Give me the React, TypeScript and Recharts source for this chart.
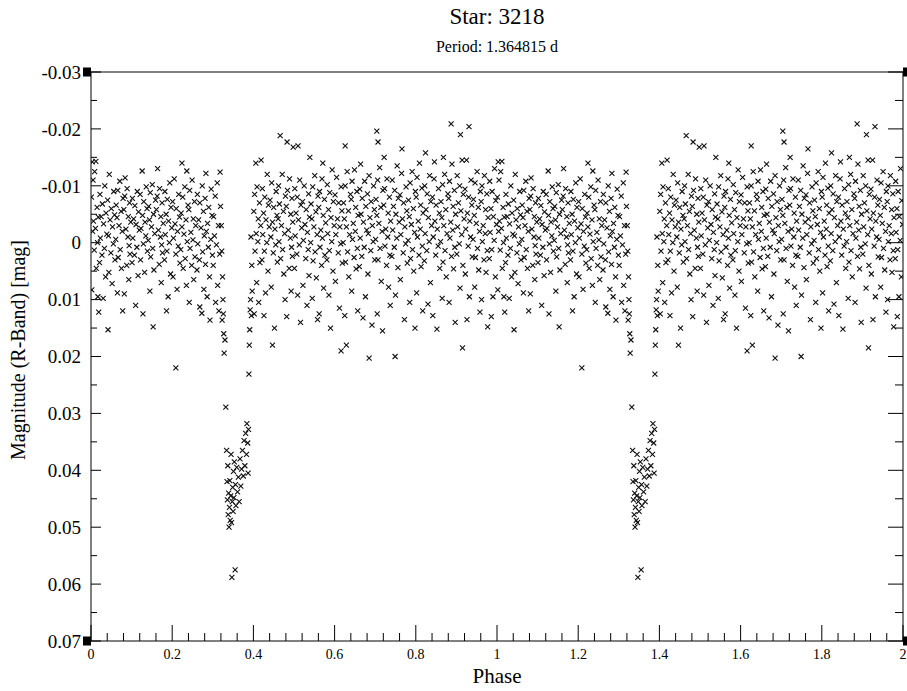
import React from 'react';
import { ScatterChart, Scatter, XAxis, YAxis, ReferenceDot } from 'recharts';

const FONT = '"Liberation Serif", "Times New Roman", serif';

const TITLE = 'Star: 3218';
const SUBTITLE = 'Period: 1.364815 d';
const X_LABEL = 'Phase';
const Y_LABEL = 'Magnitude (R-Band) [mag]';

const X_TICKS = [0, 0.04, 0.08, 0.12, 0.16, 0.2, 0.24, 0.28, 0.32, 0.36, 0.4, 0.44, 0.48, 0.52, 0.56, 0.6, 0.64, 0.68, 0.72, 0.76, 0.8, 0.84, 0.88, 0.92, 0.96, 1, 1.04, 1.08, 1.12, 1.16, 1.2, 1.24, 1.28, 1.32, 1.36, 1.4, 1.44, 1.48, 1.52, 1.56, 1.6, 1.64, 1.68, 1.72, 1.76, 1.8, 1.84, 1.88, 1.92, 1.96, 2];
const Y_TICKS = [-0.03, -0.025, -0.02, -0.015, -0.01, -0.005, 0, 0.005, 0.01, 0.015, 0.02, 0.025, 0.03, 0.035, 0.04, 0.045, 0.05, 0.055, 0.06, 0.065, 0.07];
const X_DOMAIN = [0, 2];
const Y_DOMAIN = [-0.03, 0.07];
const CYCLE_OFFSETS = [0, 1];

// phase-folded observations, phase 0..1 : [phase, magnitude]
const PHASE_MAG: [number, number][] = [
  [0.003,-0.0142],[0.012,-0.0143],[0.009,-0.0125],[0.005,-0.0110],[0.001,-0.0080],[0.015,-0.0062],[0.018,-0.0045],[0.006,-0.0038],[0.011,-0.0025],[0.004,-0.0020],[0.016,0.0000],[0.008,0.0013],[0.013,0.0045],[0.002,0.0083],[0.017,0.0095],[0.019,0.0122],
  [0.034,-0.0100],[0.022,-0.0085],[0.028,-0.0068],[0.037,-0.0052],[0.025,-0.0046],[0.031,-0.0033],[0.039,-0.0015],[0.023,-0.0008],[0.033,0.0010],[0.027,0.0022],[0.021,0.0035],[0.036,0.0060],[0.030,0.0098],
  [0.042,0.0153],[0.045,-0.0120],[0.056,-0.0090],[0.041,-0.0075],[0.050,-0.0060],[0.058,-0.0049],[0.047,-0.0040],[0.053,-0.0028],[0.043,-0.0012],[0.055,0.0002],[0.049,0.0018],[0.059,0.0030],[0.044,0.0052],[0.052,0.0072],
  [0.071,-0.0108],[0.066,-0.0092],[0.079,-0.0078],[0.062,-0.0066],[0.074,-0.0055],[0.064,-0.0044],[0.069,-0.0030],[0.077,-0.0020],[0.061,-0.0006],[0.072,0.0012],[0.067,0.0026],[0.075,0.0045],[0.065,0.0088],[0.078,0.0120],
  [0.084,-0.0114],[0.089,-0.0095],[0.083,-0.0082],[0.095,-0.0070],[0.081,-0.0058],[0.092,-0.0046],[0.098,-0.0036],[0.086,-0.0024],[0.091,-0.0010],[0.094,0.0005],[0.096,0.0020],[0.088,0.0040],[0.093,0.0065],[0.082,0.0090],
  [0.114,-0.0090],[0.102,-0.0078],[0.108,-0.0065],[0.117,-0.0054],[0.105,-0.0042],[0.111,-0.0032],[0.119,-0.0022],[0.103,-0.0008],[0.113,0.0008],[0.107,0.0022],[0.101,0.0035],[0.116,0.0058],[0.110,0.0110],
  [0.126,-0.0126],[0.136,-0.0098],[0.121,-0.0085],[0.130,-0.0072],[0.138,-0.0060],[0.127,-0.0048],[0.133,-0.0036],[0.123,-0.0025],[0.135,-0.0012],[0.129,0.0002],[0.139,0.0015],[0.122,0.0030],[0.132,0.0052],[0.128,0.0125],
  [0.151,-0.0102],[0.146,-0.0088],[0.159,-0.0075],[0.142,-0.0064],[0.154,-0.0050],[0.144,-0.0040],[0.149,-0.0028],[0.157,-0.0016],[0.141,-0.0004],[0.152,0.0010],[0.147,0.0025],[0.155,0.0048],[0.153,0.0148],[0.145,0.0085],
  [0.164,-0.0130],[0.169,-0.0095],[0.163,-0.0082],[0.175,-0.0070],[0.161,-0.0058],[0.172,-0.0046],[0.178,-0.0034],[0.166,-0.0022],[0.171,-0.0010],[0.174,0.0004],[0.176,0.0018],[0.168,0.0038],[0.173,0.0070],
  [0.194,-0.0105],[0.182,-0.0090],[0.188,-0.0076],[0.197,-0.0062],[0.185,-0.0050],[0.191,-0.0038],[0.199,-0.0026],[0.183,-0.0014],[0.193,0.0000],[0.187,0.0015],[0.181,0.0030],[0.196,0.0055],[0.190,0.0095],[0.186,0.0120],
  [0.209,0.0220],[0.205,-0.0112],[0.216,-0.0085],[0.201,-0.0072],[0.210,-0.0060],[0.218,-0.0045],[0.207,-0.0033],[0.213,-0.0020],[0.203,-0.0008],[0.215,0.0006],[0.209,0.0020],[0.219,0.0036],[0.202,0.0060],[0.212,0.0082],
  [0.224,-0.0140],[0.236,-0.0126],[0.231,-0.0098],[0.226,-0.0080],[0.239,-0.0066],[0.222,-0.0052],[0.234,-0.0040],[0.224,-0.0028],[0.229,-0.0015],[0.237,-0.0002],[0.221,0.0012],[0.232,0.0028],[0.227,0.0045],[0.235,0.0075],
  [0.249,-0.0110],[0.243,-0.0092],[0.255,-0.0072],[0.241,-0.0058],[0.252,-0.0042],[0.258,-0.0030],[0.246,-0.0018],[0.251,-0.0005],[0.244,0.0010],[0.256,0.0025],[0.248,0.0040],[0.253,0.0065],[0.242,0.0105],
  [0.274,-0.0100],[0.262,-0.0085],[0.268,-0.0070],[0.277,-0.0055],[0.265,-0.0040],[0.271,-0.0026],[0.279,-0.0012],[0.263,0.0002],[0.275,0.0016],[0.267,0.0030],[0.261,0.0048],[0.268,0.0113],[0.273,0.0124],[0.278,0.0082],
  [0.283,-0.0122],[0.296,-0.0094],[0.281,-0.0078],[0.290,-0.0062],[0.298,-0.0048],[0.287,-0.0034],[0.284,-0.0020],[0.295,-0.0006],[0.289,0.0008],[0.299,0.0022],[0.282,0.0038],[0.292,0.0060],[0.293,0.0136],[0.286,0.0095],
  [0.318,-0.0124],[0.311,-0.0105],[0.306,-0.0082],[0.319,-0.0064],[0.302,-0.0046],[0.314,-0.0030],[0.304,-0.0012],[0.309,0.0004],[0.317,0.0020],[0.301,0.0040],[0.312,0.0075],[0.307,0.0105],[0.315,0.0120],
  [0.321,-0.0030],[0.322,0.0015],[0.323,0.0136],[0.324,0.0060],[0.325,0.0100],[0.326,0.0125],[0.327,0.0160],[0.328,0.0194],[0.330,0.0171],
  [0.332,0.0289],[0.334,0.0365],[0.335,0.0420],[0.336,0.0452],[0.337,0.0392],[0.338,0.0478],[0.339,0.0440],[0.340,0.0500],[0.341,0.0465],[0.342,0.0418],[0.343,0.0488],[0.344,0.0445],[0.345,0.0372],[0.346,0.0492],[0.347,0.0588],[0.348,0.0455],[0.349,0.0430],[0.350,0.0472],[0.351,0.0402],[0.352,0.0448],[0.353,0.0385],[0.355,0.0575],[0.356,0.0425],[0.357,0.0462],[0.359,0.0395],[0.361,0.0438],[0.363,0.0412],[0.365,0.0455],[0.367,0.0380],[0.369,0.0428],[0.371,0.0398],[0.373,0.0365],[0.375,0.0410],[0.377,0.0348],[0.379,0.0392],[0.381,0.0335],[0.383,0.0372],[0.384,0.0318],[0.386,0.0352],[0.387,0.0405],[0.388,0.0328],
  [0.389,0.0231],[0.390,0.0180],[0.391,0.0153],[0.392,0.0118],[0.393,0.0100],[0.395,0.0128],[0.397,0.0085],[0.396,0.0040],[0.394,-0.0010],
  [0.406,-0.0140],[0.419,-0.0145],[0.409,-0.0098],[0.403,-0.0085],[0.415,-0.0070],[0.401,-0.0055],[0.412,-0.0042],[0.418,-0.0030],[0.407,-0.0016],[0.411,-0.0002],[0.404,0.0015],[0.416,0.0035],[0.408,0.0070],[0.413,0.0105],[0.402,0.0125],
  [0.434,-0.0120],[0.422,-0.0095],[0.428,-0.0080],[0.437,-0.0066],[0.425,-0.0052],[0.431,-0.0040],[0.439,-0.0028],[0.423,-0.0014],[0.433,0.0000],[0.427,0.0015],[0.421,0.0030],[0.436,0.0050],[0.430,0.0088],[0.426,0.0128],
  [0.445,-0.0105],[0.456,-0.0090],[0.441,-0.0075],[0.450,-0.0062],[0.458,-0.0048],[0.447,-0.0036],[0.453,-0.0024],[0.443,-0.0010],[0.455,0.0004],[0.449,0.0018],[0.459,0.0034],[0.447,0.0180],[0.452,0.0150],[0.444,0.0078],
  [0.466,-0.0188],[0.471,-0.0120],[0.462,-0.0100],[0.479,-0.0082],[0.464,-0.0068],[0.474,-0.0055],[0.461,-0.0042],[0.469,-0.0030],[0.477,-0.0016],[0.463,-0.0002],[0.472,0.0012],[0.467,0.0028],[0.475,0.0055],[0.478,0.0100],
  [0.483,-0.0177],[0.498,-0.0168],[0.489,-0.0112],[0.484,-0.0092],[0.495,-0.0078],[0.481,-0.0064],[0.492,-0.0050],[0.497,-0.0036],[0.486,-0.0022],[0.491,-0.0008],[0.494,0.0008],[0.496,0.0024],[0.488,0.0045],[0.493,0.0085],[0.482,0.0130],
  [0.510,-0.0170],[0.514,-0.0110],[0.502,-0.0095],[0.508,-0.0080],[0.517,-0.0066],[0.505,-0.0052],[0.511,-0.0040],[0.519,-0.0026],[0.503,-0.0012],[0.513,0.0004],[0.507,0.0020],[0.501,0.0045],[0.516,0.0140],[0.509,0.0092],
  [0.539,-0.0150],[0.525,-0.0100],[0.536,-0.0086],[0.521,-0.0072],[0.530,-0.0058],[0.538,-0.0045],[0.527,-0.0032],[0.533,-0.0018],[0.523,-0.0004],[0.535,0.0012],[0.529,0.0028],[0.537,0.0058],[0.522,0.0075],[0.532,0.0110],
  [0.551,-0.0118],[0.546,-0.0098],[0.559,-0.0082],[0.542,-0.0068],[0.554,-0.0054],[0.544,-0.0042],[0.549,-0.0028],[0.557,-0.0014],[0.541,0.0000],[0.552,0.0016],[0.547,0.0032],[0.555,0.0062],[0.545,0.0098],[0.558,0.0135],
  [0.571,-0.0140],[0.569,-0.0112],[0.563,-0.0090],[0.575,-0.0076],[0.561,-0.0062],[0.572,-0.0048],[0.578,-0.0035],[0.566,-0.0022],[0.570,-0.0008],[0.564,0.0008],[0.576,0.0022],[0.568,0.0040],[0.573,0.0080],[0.562,0.0125],
  [0.594,-0.0128],[0.582,-0.0102],[0.588,-0.0088],[0.597,-0.0072],[0.585,-0.0058],[0.591,-0.0044],[0.599,-0.0030],[0.583,-0.0016],[0.593,-0.0002],[0.587,0.0014],[0.581,0.0030],[0.596,0.0050],[0.590,0.0150],[0.586,0.0092],
  [0.616,0.0190],[0.605,-0.0115],[0.616,-0.0098],[0.601,-0.0084],[0.610,-0.0070],[0.618,-0.0056],[0.607,-0.0042],[0.613,-0.0028],[0.603,-0.0014],[0.615,0.0002],[0.609,0.0018],[0.619,0.0036],[0.602,0.0068],[0.612,0.0115],
  [0.626,-0.0170],[0.629,0.0180],[0.631,-0.0125],[0.626,-0.0100],[0.639,-0.0085],[0.622,-0.0070],[0.634,-0.0056],[0.624,-0.0042],[0.629,-0.0028],[0.637,-0.0014],[0.621,0.0000],[0.632,0.0016],[0.627,0.0034],[0.635,0.0060],[0.625,0.0128],
  [0.649,-0.0128],[0.643,-0.0108],[0.655,-0.0090],[0.641,-0.0076],[0.652,-0.0062],[0.658,-0.0048],[0.646,-0.0034],[0.651,-0.0020],[0.644,-0.0006],[0.656,0.0010],[0.648,0.0026],[0.653,0.0046],[0.642,0.0085],[0.657,0.0120],
  [0.664,-0.0138],[0.674,-0.0108],[0.662,-0.0094],[0.668,-0.0078],[0.677,-0.0064],[0.665,-0.0050],[0.671,-0.0036],[0.679,-0.0022],[0.663,-0.0008],[0.673,0.0008],[0.667,0.0024],[0.661,0.0042],[0.676,0.0095],[0.670,0.0132],
  [0.685,0.0203],[0.685,-0.0118],[0.696,-0.0100],[0.681,-0.0086],[0.690,-0.0072],[0.698,-0.0058],[0.687,-0.0044],[0.693,-0.0030],[0.683,-0.0016],[0.695,-0.0002],[0.689,0.0014],[0.699,0.0030],[0.682,0.0055],[0.692,0.0145],
  [0.704,-0.0196],[0.707,-0.0177],[0.711,-0.0132],[0.706,-0.0110],[0.719,-0.0092],[0.702,-0.0076],[0.714,-0.0062],[0.704,-0.0048],[0.709,-0.0034],[0.717,-0.0020],[0.701,-0.0006],[0.712,0.0010],[0.707,0.0030],[0.715,0.0068],[0.705,0.0125],[0.718,0.0155],
  [0.722,-0.0150],[0.729,-0.0112],[0.723,-0.0095],[0.735,-0.0080],[0.721,-0.0066],[0.732,-0.0052],[0.738,-0.0038],[0.726,-0.0024],[0.731,-0.0010],[0.724,0.0006],[0.736,0.0022],[0.728,0.0040],[0.733,0.0078],[0.737,0.0110],
  [0.749,0.0200],[0.754,-0.0135],[0.742,-0.0110],[0.748,-0.0092],[0.757,-0.0078],[0.745,-0.0064],[0.751,-0.0050],[0.759,-0.0036],[0.743,-0.0022],[0.753,-0.0008],[0.747,0.0008],[0.741,0.0024],[0.756,0.0044],[0.750,0.0092],
  [0.766,-0.0165],[0.765,-0.0122],[0.776,-0.0098],[0.761,-0.0084],[0.770,-0.0070],[0.778,-0.0056],[0.767,-0.0042],[0.773,-0.0028],[0.763,-0.0014],[0.775,0.0002],[0.769,0.0018],[0.779,0.0036],[0.762,0.0065],[0.772,0.0135],
  [0.791,-0.0125],[0.786,-0.0105],[0.799,-0.0090],[0.782,-0.0075],[0.794,-0.0060],[0.784,-0.0046],[0.789,-0.0032],[0.797,-0.0018],[0.781,-0.0004],[0.792,0.0012],[0.787,0.0028],[0.795,0.0050],[0.785,0.0105],[0.798,0.0150],
  [0.809,-0.0140],[0.803,-0.0115],[0.815,-0.0096],[0.801,-0.0080],[0.812,-0.0066],[0.818,-0.0052],[0.806,-0.0038],[0.811,-0.0024],[0.804,-0.0010],[0.816,0.0006],[0.808,0.0022],[0.813,0.0042],[0.802,0.0088],[0.817,0.0120],
  [0.824,-0.0158],[0.834,-0.0118],[0.822,-0.0100],[0.828,-0.0086],[0.837,-0.0072],[0.825,-0.0058],[0.831,-0.0044],[0.839,-0.0030],[0.823,-0.0016],[0.833,-0.0002],[0.827,0.0014],[0.821,0.0032],[0.836,0.0070],[0.830,0.0108],
  [0.846,-0.0142],[0.845,-0.0112],[0.856,-0.0095],[0.841,-0.0080],[0.850,-0.0066],[0.858,-0.0052],[0.847,-0.0038],[0.853,-0.0024],[0.843,-0.0010],[0.855,0.0006],[0.849,0.0022],[0.859,0.0045],[0.842,0.0128],[0.852,0.0152],
  [0.868,-0.0150],[0.871,-0.0120],[0.866,-0.0102],[0.879,-0.0086],[0.862,-0.0072],[0.874,-0.0058],[0.864,-0.0044],[0.869,-0.0030],[0.877,-0.0016],[0.861,-0.0002],[0.872,0.0014],[0.867,0.0034],[0.875,0.0060],[0.865,0.0098],
  [0.887,-0.0209],[0.889,-0.0138],[0.883,-0.0108],[0.895,-0.0092],[0.881,-0.0078],[0.892,-0.0064],[0.898,-0.0050],[0.886,-0.0036],[0.891,-0.0022],[0.884,-0.0008],[0.896,0.0008],[0.888,0.0024],[0.893,0.0046],[0.882,0.0105],[0.897,0.0140],
  [0.910,-0.0190],[0.915,0.0185],[0.914,-0.0145],[0.902,-0.0118],[0.908,-0.0100],[0.917,-0.0085],[0.905,-0.0070],[0.911,-0.0056],[0.919,-0.0042],[0.903,-0.0028],[0.913,-0.0014],[0.907,0.0002],[0.901,0.0020],[0.916,0.0040],[0.909,0.0080],
  [0.931,-0.0204],[0.925,-0.0145],[0.936,-0.0110],[0.921,-0.0094],[0.930,-0.0080],[0.938,-0.0066],[0.927,-0.0052],[0.933,-0.0038],[0.923,-0.0024],[0.935,-0.0010],[0.929,0.0006],[0.939,0.0025],[0.922,0.0055],[0.932,0.0095],[0.926,0.0135],
  [0.951,-0.0125],[0.946,-0.0105],[0.959,-0.0090],[0.942,-0.0076],[0.954,-0.0062],[0.944,-0.0048],[0.949,-0.0034],[0.957,-0.0020],[0.941,-0.0006],[0.952,0.0010],[0.947,0.0026],[0.955,0.0048],[0.945,0.0078],[0.958,0.0122],
  [0.969,-0.0118],[0.963,-0.0100],[0.975,-0.0086],[0.961,-0.0072],[0.972,-0.0058],[0.978,-0.0044],[0.966,-0.0030],[0.971,-0.0016],[0.964,-0.0002],[0.976,0.0014],[0.968,0.0030],[0.973,0.0052],[0.962,0.0100],[0.977,0.0148],
  [0.994,-0.0130],[0.982,-0.0108],[0.988,-0.0090],[0.997,-0.0074],[0.985,-0.0060],[0.991,-0.0046],[0.999,-0.0032],[0.983,-0.0018],[0.993,-0.0004],[0.987,0.0012],[0.981,0.0028],[0.996,0.0060],[0.990,0.0095],[0.986,0.0130],
];

const CORNERS: { x: number; y: number; side: 'left' | 'right' }[] = [
  { x: 0, y: -0.03, side: 'left' },
  { x: 0, y: 0.07, side: 'left' },
  { x: 2, y: -0.03, side: 'right' },
  { x: 2, y: 0.07, side: 'right' },
];

const data = CYCLE_OFFSETS.flatMap((off) => PHASE_MAG.map(([p, m]) => ({ phase: p + off, mag: m })));

const isMajorX = (v: number) => Math.abs(v * 5 - Math.round(v * 5)) < 1e-6;
const isMajorY = (v: number) => Math.abs(v * 100 - Math.round(v * 100)) < 1e-6;
const fmt = (v: number) => String(Math.round(v * 1000) / 1000);

const BottomTick = (p: any) => {
  const v = p.payload.value;
  const major = isMajorX(v);
  return (
    <g>
      <line x1={p.x} x2={p.x} y1={p.y} y2={p.y - (major ? 16 : 8)} stroke="#000" strokeWidth={1} />
      {major && (
        <text x={p.x} y={p.y + 8} dy="0.71em" textAnchor="middle" fontSize={14} fontFamily={FONT} fill="#000">
          {fmt(v)}
        </text>
      )}
    </g>
  );
};

const TopTick = (p: any) => {
  const major = isMajorX(p.payload.value);
  return <line x1={p.x} x2={p.x} y1={p.y} y2={p.y + (major ? 17 : 9)} stroke="#000" strokeWidth={1} />;
};

const LeftTick = (p: any) => {
  const v = p.payload.value;
  const major = isMajorY(v);
  return (
    <g>
      <line x1={p.x} x2={p.x + (major ? 10 : 6)} y1={p.y} y2={p.y} stroke="#000" strokeWidth={1} />
      {major && (
        <text x={p.x - 10} y={p.y} dy="0.355em" textAnchor="end" fontSize={19} fontFamily={FONT} fill="#000">
          {fmt(v)}
        </text>
      )}
    </g>
  );
};

const RightTick = (p: any) => {
  const major = isMajorY(p.payload.value);
  return <line x1={p.x} x2={p.x - (major ? 15 : 8)} y1={p.y} y2={p.y} stroke="#000" strokeWidth={1} />;
};

const Cross = (props: any) => {
  const { cx, cy } = props;
  if (cx == null || cy == null) return <g />;
  const s = 2.5;
  return (
    <path
      d={`M${cx - s},${cy - s}L${cx + s},${cy + s}M${cx + s},${cy - s}L${cx - s},${cy + s}`}
      stroke="#111"
      strokeWidth={1.1}
      fill="none"
    />
  );
};

const makeSquare = (side: 'left' | 'right') => (props: any) => {
  const { cx, cy } = props;
  return <rect x={side === 'left' ? cx - 8 : cx} y={cy - 4.5} width={8} height={9} fill="#000" />;
};

const axisLine = { stroke: '#000', strokeWidth: 1 };

export default function App() {
  return (
    <div style={{ position: 'relative', width: 907, height: 691, overflow: 'hidden', fontFamily: FONT, color: '#000', background: '#fff' }}>
      <style>{'html,body{margin:0;padding:0;overflow:hidden;}'}</style>
      <div style={{ position: 'absolute', left: 91, width: 812, top: 5, textAlign: 'center', fontSize: 23, lineHeight: '23px' }}>
        {TITLE}
      </div>
      <div style={{ position: 'absolute', left: 91, width: 812, top: 39, textAlign: 'center', fontSize: 16, lineHeight: '16px' }}>
        {SUBTITLE}
      </div>
      <div
        style={{
          position: 'absolute',
          left: 18 - 160,
          top: 350 - 10,
          width: 320,
          height: 20,
          lineHeight: '20px',
          fontSize: 20,
          textAlign: 'center',
          transform: 'rotate(-90deg)',
          transformOrigin: 'center center',
          whiteSpace: 'nowrap',
        }}
      >
        {Y_LABEL}
      </div>
      <div style={{ position: 'absolute', left: 91, width: 812, top: 666, textAlign: 'center', fontSize: 21, lineHeight: '21px' }}>
        {X_LABEL}
      </div>
      <div style={{ position: 'absolute', left: 0, top: 0 }}>
        <ScatterChart width={907} height={691} margin={{ top: 72, right: 4, bottom: 0, left: 0 }}>
          <XAxis
            xAxisId="b"
            dataKey="phase"
            type="number"
            domain={X_DOMAIN}
            allowDataOverflow
            ticks={X_TICKS}
            interval={0}
            orientation="bottom"
            height={50}
            axisLine={axisLine}
            tickLine={false}
            tickSize={0}
            tickMargin={0}
            tick={BottomTick}
          />
          <XAxis
            xAxisId="t"
            type="number"
            domain={X_DOMAIN}
            allowDataOverflow
            ticks={X_TICKS}
            interval={0}
            orientation="top"
            mirror
            height={1}
            axisLine={axisLine}
            tickLine={false}
            tickSize={0}
            tickMargin={0}
            tick={TopTick}
          />
          <YAxis
            yAxisId="l"
            dataKey="mag"
            type="number"
            domain={Y_DOMAIN}
            reversed
            allowDataOverflow
            ticks={Y_TICKS}
            interval={0}
            orientation="left"
            width={91}
            axisLine={axisLine}
            tickLine={false}
            tickSize={0}
            tickMargin={0}
            tick={LeftTick}
          />
          <YAxis
            yAxisId="r"
            type="number"
            domain={Y_DOMAIN}
            reversed
            allowDataOverflow
            ticks={Y_TICKS}
            interval={0}
            orientation="right"
            mirror
            width={1}
            axisLine={axisLine}
            tickLine={false}
            tickSize={0}
            tickMargin={0}
            tick={RightTick}
          />
          <Scatter xAxisId="b" yAxisId="l" data={data} shape={Cross} isAnimationActive={false} />
          {CORNERS.map((c, i) => (
            <ReferenceDot
              key={i}
              xAxisId="b"
              yAxisId="l"
              x={c.x}
              y={c.y}
              r={4}
              ifOverflow="visible"
              shape={makeSquare(c.side)}
            />
          ))}
        </ScatterChart>
      </div>
    </div>
  );
}
